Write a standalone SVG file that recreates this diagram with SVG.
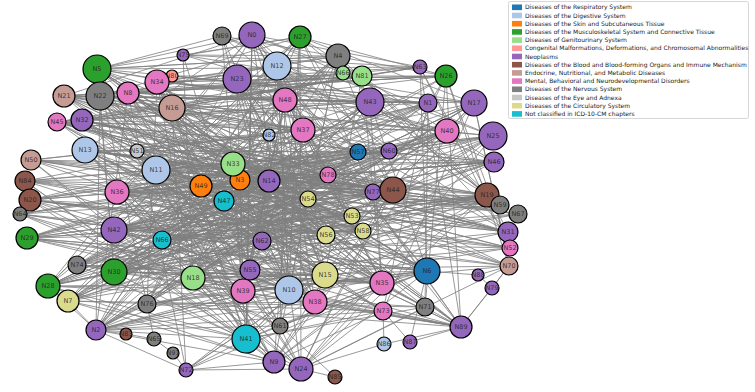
<svg xmlns="http://www.w3.org/2000/svg" width="755" height="392" viewBox="0 0 755 392">
<style>
.e{fill:none;stroke:#808080;stroke-width:1;stroke-opacity:0.8;stroke-linejoin:bevel}
.n circle{stroke:#000;stroke-width:1.2}
.n text{font-family:"DejaVu Sans",sans-serif;font-size:6.5px;fill:#222;fill-opacity:0.85;text-anchor:middle;dominant-baseline:central}
.c0{fill:#1f77b4}.c1{fill:#aec7e8}.c2{fill:#ff7f0e}.c3{fill:#2ca02c}.c4{fill:#98df8a}.c5{fill:#ff9896}.c6{fill:#9467bd}.c7{fill:#8c564b}.c8{fill:#c49c94}.c9{fill:#e377c2}.c10{fill:#7f7f7f}.c11{fill:#c7c7c7}.c12{fill:#dbdb8d}.c13{fill:#17becf}
.lg text{font-family:"DejaVu Sans",sans-serif;font-size:6px;fill:#222}
</style>
<rect width="755" height="392" fill="#fff"/>
<g id="edges">
<path class="e" d="M97 69L474 103L100 96L493 136L64 96L494 162L57 122L487 195L82 120L500 205L85 150L518 214L31 160L508 232L25 181L510 248L30 200L509 266L20 214L427 271L27 238L461 327L77 265L382 283L48 286L425 307L68 301L383 311L96 330L325 275L114 272L393 190L114 230L447 131L117 192L428 103L156 170L370 102L128 93L446 76L157 82L420 67L172 108L362 76"/>
<path class="e" d="M222 36L246 339L252 35L301 369L300 37L274 362L338 56L289 290L277 66L315 302L237 79L243 291L285 100L250 270L183 55L193 278L157 82L147 304L97 69L114 272L100 96L96 330L128 93L186 370L172 108L280 326L303 130L325 275L362 76L382 283L370 102L427 271L420 67L461 327L446 76L425 307L428 103L383 311L474 103L509 266"/>
<path class="e" d="M64 96L427 271L97 69L461 327L85 150L382 283L252 35L48 286L300 37L96 330L338 56L68 301L370 102L114 272L474 103L246 339L493 136L301 369L446 76L274 362L487 195L193 278L447 131L27 238L428 103L30 200L494 162L114 230L277 66L289 290L237 79L325 275L100 96L393 190L82 120L508 232L57 122L509 266L156 170L315 302L172 108L243 291L285 100L280 326"/>
<path class="e" d="M233 164L393 190L201 186L358 152L224 201L389 151L269 181L326 235L240 180L352 216L262 241L363 231L162 240L373 192L117 192L308 199L156 170L328 175L137 151L303 130L269 135L325 275L114 230L289 290L250 270L382 283L193 278L427 271L243 291L487 195L262 241L447 131L269 181L493 136L233 164L494 162L201 186L500 205L224 201L508 232L240 180L510 248L162 240L518 214"/>
<path class="e" d="M85 150L269 181L57 122L233 164L31 160L308 199L25 181L326 235L30 200L352 216L27 238L328 175L82 120L393 190L64 96L358 152L97 69L285 100L128 93L303 130L100 96L277 66L157 82L370 102L172 108L389 151L156 170L373 192L117 192L363 231L114 230L382 283L114 272L325 275L77 265L289 290L48 286L262 241L68 301L250 270L96 330L243 291L147 304L315 302"/>
<path class="e" d="M252 35L493 136L222 36L494 162L300 37L487 195L277 66L508 232L237 79L447 131L183 55L474 103L172 76L428 103L157 82L446 76L128 93L420 67L97 69L338 56L100 96L362 76L64 96L343 73L57 122L370 102L82 120L285 100L85 150L303 130L31 160L269 135L25 181L233 164L30 200L269 181L20 214L240 180L27 238L201 186L77 265L224 201L48 286L262 241"/>
<path class="e" d="M246 339L427 271L301 369L382 283L246 339L487 195L301 369L393 190L274 362L474 103L246 339L252 35L461 327L289 290L96 330L325 275L186 370L427 271L280 326L382 283L274 362L383 311L246 339L425 307L301 369L509 266L461 327L315 302L96 330L427 271L147 304L461 327L114 272L301 369L193 278L461 327L250 270L246 339L97 69L301 369L85 150L274 362L100 96L246 339L117 192"/>
<path class="e" d="M277 66L326 235L237 79L363 231L285 100L262 241L303 130L162 240L269 135L250 270L269 181L243 291L233 164L289 290L240 180L315 302L201 186L325 275L224 201L382 283L308 199L193 278L328 175L114 230L358 152L117 192L389 151L156 170L393 190L85 150L373 192L172 108L352 216L128 93L326 235L100 96L363 231L97 69"/>
<path class="e" d="M474 103L156 170L493 136L117 192L494 162L114 230L487 195L162 240L500 205L193 278L518 214L114 272L508 232L147 304L510 248L250 270L509 266L243 291L427 271L85 150L393 190L97 69L447 131L100 96L428 103L64 96L446 76L57 122L420 67L82 120L362 76L277 66L370 102L237 79L389 151L252 35L358 152L222 36"/>
<path class="e" d="M31 160L393 190L25 181L325 275L30 200L289 290L20 214L427 271L27 238L382 283L77 265L326 235L48 286L487 195L68 301L447 131L96 330L474 103L147 304L370 102L114 272L338 56L114 230L300 37L117 192L252 35L85 150L269 181L57 122L303 130L64 96L428 103"/>
<path class="e" d="M172 108L325 275L157 82L289 290L128 93L315 302L100 96L382 283L97 69L427 271L64 96L383 311L57 122L425 307L82 120L461 327L85 150L301 369L31 160L274 362L25 181L246 339L30 200L280 326L20 214L243 291L27 238L250 270L114 230L262 241L117 192L326 235L156 170L363 231L137 151L352 216L237 79L308 199L277 66L328 175L252 35L373 192L300 37L393 190L338 56L487 195L370 102L500 205L362 76L508 232L420 67L510 248L446 76L509 266L474 103L193 278L493 136L114 272L447 131L77 265L428 103L48 286L494 162L68 301L389 151L96 330L358 152L147 304"/>
<path class="e" d="M237 79L393 190L285 100L427 271L303 130L461 327L277 66L382 283L252 35L325 275L222 36L289 290L300 37L193 278L338 56L243 291L370 102L114 272L474 103L114 230L493 136L117 192L494 162L156 170L487 195L85 150L500 205L57 122L508 232L64 96L509 266L97 69L461 327L172 108L246 339L157 82L301 369L128 93L274 362L100 96L250 270L82 120L262 241L31 160L326 235L30 200L363 231L27 238L352 216L77 265L308 199L48 286L269 181L68 301L240 180L96 330L233 164L147 304L201 186L114 272L224 201"/>
<path class="e" d="M97 69L325 275L100 96L427 271L128 93L382 283L157 82L461 327L172 108L425 307L64 96L289 290L57 122L383 311L82 120L315 302L85 150L280 326L156 170L274 362L117 192L246 339L252 35L96 330L300 37L48 286L338 56L68 301L277 66L147 304L370 102L77 265L446 76L114 272L474 103L193 278L428 103L114 230L447 131L250 270L493 136L243 291L494 162L262 241L487 195L162 240L393 190L201 186L500 205L269 181L518 214L233 164L508 232L240 180L510 248L224 201"/>
<path class="e" d="M31 160L328 175L25 181L358 152L30 200L389 151L20 214L393 190L27 238L373 192L117 192L308 199L156 170L352 216L201 186L363 231L224 201L326 235L162 240L487 195L114 230L500 205L85 150L494 162L57 122L447 131L82 120L428 103L64 96L370 102L128 93L362 76L172 108L303 130L137 151L285 100L233 164L269 181L240 180L262 241L250 270L243 291L193 278L289 290L325 275L315 302L382 283L427 271"/>
<path class="e" d="M172 108L269 181L128 93L308 199L157 82L326 235L237 79L328 175L156 170L393 190L137 151L358 152L85 150L262 241L277 66L162 240L285 100L224 201L303 130L201 186L269 135L193 278L233 164L250 270L240 180L243 291L117 192L352 216L114 230L363 231L114 272L373 192L77 265L389 151L48 286L447 131L68 301L428 103L96 330L370 102L147 304L358 152L193 278L325 275L262 241L289 290L162 240L315 302L269 181L382 283L326 235L427 271L308 199L487 195L328 175L494 162"/>
<path class="e" d="M97 69L252 35M97 69L222 36M97 69L300 37M97 69L338 56M183 55L338 56M183 55L300 37M64 96L252 35M100 96L300 37M157 82L338 56M172 76L446 76M183 55L420 67M222 36L446 76M252 35L420 67M252 35L362 76M300 37L446 76M300 37L474 103M48 286L246 339M68 301L246 339M77 265L246 339M48 286L274 362M68 301L301 369"/>
<path class="e" d="M96 330L246 339M96 330L274 362M96 330L280 326M96 330L186 370M96 330L126 334M96 330L147 304M96 330L48 286M96 330L68 301M96 330L193 278"/>
<path class="e" d="M126 334L154 339L173 353L186 370M154 339L147 304M186 370L274 362M186 370L246 339M186 370L301 369M186 370L289 290M186 370L325 275M335 377L301 369M335 377L280 326M384 344L383 311M384 344L301 369M384 344L461 327M410 342L383 311M410 342L461 327M478 275L492 288M478 275L427 271M478 275L509 266M492 288L461 327M492 288L509 266M410 342L427 271"/>
</g>
<g id="nodes" class="n">
<g id="N0"><circle class="c6" cx="252" cy="35" r="13"/><text x="252" y="35">N0</text></g>
<g id="N69"><circle class="c10" cx="222" cy="36" r="9"/><text x="222" y="36">N69</text></g>
<g id="N27"><circle class="c3" cx="300" cy="37" r="11"/><text x="300" y="37">N27</text></g>
<g id="N4"><circle class="c10" cx="338" cy="56" r="12"/><text x="338" y="56">N4</text></g>
<g id="N66"><circle class="c4" cx="343" cy="73" r="7"/><text x="343" y="73">N66</text></g>
<g id="N81"><circle class="c4" cx="362" cy="76" r="10"/><text x="362" y="76">N81</text></g>
<g id="N63"><circle class="c6" cx="420" cy="67" r="7"/><text x="420" y="67">N63</text></g>
<g id="N26"><circle class="c3" cx="446" cy="76" r="11"/><text x="446" y="76">N26</text></g>
<g id="N75"><circle class="c6" cx="183" cy="55" r="6"/><text x="183" y="55">N75</text></g>
<g id="N80"><circle class="c5" cx="172" cy="76" r="6"/><text x="172" y="76">N80</text></g>
<g id="N5"><circle class="c3" cx="97" cy="69" r="14"/><text x="97" y="69">N5</text></g>
<g id="N34"><circle class="c9" cx="157" cy="82" r="12"/><text x="157" y="82">N34</text></g>
<g id="N8"><circle class="c9" cx="128" cy="93" r="11"/><text x="128" y="93">N8</text></g>
<g id="N21"><circle class="c8" cx="64" cy="96" r="11"/><text x="64" y="96">N21</text></g>
<g id="N22"><circle class="c10" cx="100" cy="96" r="14"/><text x="100" y="96">N22</text></g>
<g id="N16"><circle class="c8" cx="172" cy="108" r="13"/><text x="172" y="108">N16</text></g>
<g id="N23"><circle class="c6" cx="237" cy="79" r="14"/><text x="237" y="79">N23</text></g>
<g id="N12"><circle class="c1" cx="277" cy="66" r="14"/><text x="277" y="66">N12</text></g>
<g id="N48"><circle class="c9" cx="285" cy="100" r="12"/><text x="285" y="100">N48</text></g>
<g id="N37"><circle class="c9" cx="303" cy="130" r="12"/><text x="303" y="130">N37</text></g>
<g id="N82"><circle class="c1" cx="269" cy="135" r="6"/><text x="269" y="135">N82</text></g>
<g id="N43"><circle class="c6" cx="370" cy="102" r="14"/><text x="370" y="102">N43</text></g>
<g id="N1"><circle class="c6" cx="428" cy="103" r="9"/><text x="428" y="103">N1</text></g>
<g id="N17"><circle class="c6" cx="474" cy="103" r="13"/><text x="474" y="103">N17</text></g>
<g id="N40"><circle class="c9" cx="447" cy="131" r="12"/><text x="447" y="131">N40</text></g>
<g id="N25"><circle class="c6" cx="493" cy="136" r="14"/><text x="493" y="136">N25</text></g>
<g id="N46"><circle class="c6" cx="494" cy="162" r="10"/><text x="494" y="162">N46</text></g>
<g id="N57"><circle class="c0" cx="358" cy="152" r="8"/><text x="358" y="152">N57</text></g>
<g id="N60"><circle class="c6" cx="389" cy="151" r="8"/><text x="389" y="151">N60</text></g>
<g id="N77"><circle class="c6" cx="373" cy="192" r="8"/><text x="373" y="192">N77</text></g>
<g id="N44"><circle class="c7" cx="393" cy="190" r="13"/><text x="393" y="190">N44</text></g>
<g id="N19"><circle class="c7" cx="487" cy="195" r="12"/><text x="487" y="195">N19</text></g>
<g id="N59"><circle class="c10" cx="500" cy="205" r="9"/><text x="500" y="205">N59</text></g>
<g id="N67"><circle class="c10" cx="518" cy="214" r="9"/><text x="518" y="214">N67</text></g>
<g id="N31"><circle class="c6" cx="508" cy="232" r="10"/><text x="508" y="232">N31</text></g>
<g id="N52"><circle class="c9" cx="510" cy="248" r="8"/><text x="510" y="248">N52</text></g>
<g id="N70"><circle class="c8" cx="509" cy="266" r="9"/><text x="509" y="266">N70</text></g>
<g id="N88"><circle class="c6" cx="478" cy="275" r="6"/><text x="478" y="275">N88</text></g>
<g id="N79"><circle class="c6" cx="492" cy="288" r="7"/><text x="492" y="288">N79</text></g>
<g id="N45"><circle class="c9" cx="57" cy="122" r="9"/><text x="57" y="122">N45</text></g>
<g id="N32"><circle class="c6" cx="82" cy="120" r="11"/><text x="82" y="120">N32</text></g>
<g id="N13"><circle class="c1" cx="85" cy="150" r="13"/><text x="85" y="150">N13</text></g>
<g id="N51"><circle class="c11" cx="137" cy="151" r="7"/><text x="137" y="151">N51</text></g>
<g id="N11"><circle class="c1" cx="156" cy="170" r="14"/><text x="156" y="170">N11</text></g>
<g id="N50"><circle class="c8" cx="31" cy="160" r="10"/><text x="31" y="160">N50</text></g>
<g id="N84"><circle class="c7" cx="25" cy="181" r="10"/><text x="25" y="181">N84</text></g>
<g id="N20"><circle class="c7" cx="30" cy="200" r="11"/><text x="30" y="200">N20</text></g>
<g id="N64"><circle class="c10" cx="20" cy="214" r="7"/><text x="20" y="214">N64</text></g>
<g id="N36"><circle class="c9" cx="117" cy="192" r="12"/><text x="117" y="192">N36</text></g>
<g id="N42"><circle class="c6" cx="114" cy="230" r="13"/><text x="114" y="230">N42</text></g>
<g id="N68"><circle class="c13" cx="162" cy="240" r="9"/><text x="162" y="240">N66</text></g>
<g id="N29"><circle class="c3" cx="27" cy="238" r="11"/><text x="27" y="238">N29</text></g>
<g id="N3"><circle class="c2" cx="240" cy="180" r="10"/><text x="240" y="180">N3</text></g>
<g id="N33"><circle class="c4" cx="233" cy="164" r="12"/><text x="233" y="164">N33</text></g>
<g id="N49"><circle class="c2" cx="201" cy="186" r="11"/><text x="201" y="186">N49</text></g>
<g id="N47"><circle class="c13" cx="224" cy="201" r="10"/><text x="224" y="201">N47</text></g>
<g id="N14"><circle class="c6" cx="269" cy="181" r="11"/><text x="269" y="181">N14</text></g>
<g id="N78"><circle class="c9" cx="328" cy="175" r="8"/><text x="328" y="175">N78</text></g>
<g id="N54"><circle class="c12" cx="308" cy="199" r="8"/><text x="308" y="199">N54</text></g>
<g id="N53"><circle class="c12" cx="352" cy="216" r="8"/><text x="352" y="216">N53</text></g>
<g id="N58"><circle class="c12" cx="363" cy="231" r="8"/><text x="363" y="231">N58</text></g>
<g id="N56"><circle class="c12" cx="326" cy="235" r="9"/><text x="326" y="235">N56</text></g>
<g id="N62"><circle class="c6" cx="262" cy="241" r="9"/><text x="262" y="241">N62</text></g>
<g id="N74"><circle class="c10" cx="77" cy="265" r="9"/><text x="77" y="265">N74</text></g>
<g id="N30"><circle class="c3" cx="114" cy="272" r="13"/><text x="114" y="272">N30</text></g>
<g id="N28"><circle class="c3" cx="48" cy="286" r="12"/><text x="48" y="286">N28</text></g>
<g id="N7"><circle class="c12" cx="68" cy="301" r="11"/><text x="68" y="301">N7</text></g>
<g id="N18"><circle class="c4" cx="193" cy="278" r="12"/><text x="193" y="278">N18</text></g>
<g id="N55"><circle class="c6" cx="250" cy="270" r="10"/><text x="250" y="270">N55</text></g>
<g id="N39"><circle class="c9" cx="243" cy="291" r="12"/><text x="243" y="291">N39</text></g>
<g id="N10"><circle class="c1" cx="289" cy="290" r="14"/><text x="289" y="290">N10</text></g>
<g id="N15"><circle class="c12" cx="325" cy="275" r="13"/><text x="325" y="275">N15</text></g>
<g id="N38"><circle class="c9" cx="315" cy="302" r="12"/><text x="315" y="302">N38</text></g>
<g id="N35"><circle class="c9" cx="382" cy="283" r="12"/><text x="382" y="283">N35</text></g>
<g id="N6"><circle class="c0" cx="427" cy="271" r="13"/><text x="427" y="271">N6</text></g>
<g id="N71"><circle class="c10" cx="425" cy="307" r="9"/><text x="425" y="307">N71</text></g>
<g id="N73"><circle class="c9" cx="383" cy="311" r="9"/><text x="383" y="311">N73</text></g>
<g id="N89"><circle class="c6" cx="461" cy="327" r="11"/><text x="461" y="327">N89</text></g>
<g id="N86"><circle class="c1" cx="384" cy="344" r="7"/><text x="384" y="344">N86</text></g>
<g id="N87"><circle class="c6" cx="410" cy="342" r="7"/><text x="410" y="342">N87</text></g>
<g id="N76"><circle class="c10" cx="147" cy="304" r="9"/><text x="147" y="304">N76</text></g>
<g id="N2"><circle class="c6" cx="96" cy="330" r="10"/><text x="96" y="330">N2</text></g>
<g id="N83"><circle class="c7" cx="126" cy="334" r="6"/><text x="126" y="334">N83</text></g>
<g id="N65"><circle class="c10" cx="154" cy="339" r="7"/><text x="154" y="339">N65</text></g>
<g id="N91"><circle class="c10" cx="173" cy="353" r="6"/><text x="173" y="353">N91</text></g>
<g id="N72"><circle class="c6" cx="186" cy="370" r="7"/><text x="186" y="370">N72</text></g>
<g id="N41"><circle class="c13" cx="246" cy="339" r="14"/><text x="246" y="339">N41</text></g>
<g id="N61"><circle class="c10" cx="280" cy="326" r="8"/><text x="280" y="326">N61</text></g>
<g id="N9"><circle class="c6" cx="274" cy="362" r="11"/><text x="274" y="362">N9</text></g>
<g id="N24"><circle class="c6" cx="301" cy="369" r="12"/><text x="301" y="369">N24</text></g>
<g id="N85"><circle class="c7" cx="335" cy="377" r="7"/><text x="335" y="377">N85</text></g>
</g>
<g id="legend" class="lg">
<rect x="508.5" y="1.5" width="240" height="117" rx="2" fill="#fff" fill-opacity="0.85" stroke="#ccc" stroke-width="0.8"/>
<rect class="c0" x="512" y="4.5" width="10" height="5.6"/><text x="525" y="9.3">Diseases of the Respiratory System</text>
<rect class="c1" x="512" y="12.7" width="10" height="5.6"/><text x="525" y="17.5">Diseases of the Digestive System</text>
<rect class="c2" x="512" y="20.9" width="10" height="5.6"/><text x="525" y="25.7">Diseases of the Skin and Subcutaneous Tissue</text>
<rect class="c3" x="512" y="29.1" width="10" height="5.6"/><text x="525" y="33.9">Diseases of the Musculoskeletal System and Connective Tissue</text>
<rect class="c4" x="512" y="37.3" width="10" height="5.6"/><text x="525" y="42.1">Diseases of Genitourinary System</text>
<rect class="c5" x="512" y="45.5" width="10" height="5.6"/><text x="525" y="50.3">Congenital Malformations, Deformations, and Chromosomal Abnormalities</text>
<rect class="c6" x="512" y="53.7" width="10" height="5.6"/><text x="525" y="58.5">Neoplasms</text>
<rect class="c7" x="512" y="61.9" width="10" height="5.6"/><text x="525" y="66.7">Diseases of the Blood and Blood-forming Organs and Immune Mechanism</text>
<rect class="c8" x="512" y="70.1" width="10" height="5.6"/><text x="525" y="74.9">Endocrine, Nutritional, and Metabolic Diseases</text>
<rect class="c9" x="512" y="78.3" width="10" height="5.6"/><text x="525" y="83.1">Mental, Behavioral and Neurodevelopmental Disorders</text>
<rect class="c10" x="512" y="86.5" width="10" height="5.6"/><text x="525" y="91.3">Diseases of the Nervous System</text>
<rect class="c11" x="512" y="94.7" width="10" height="5.6"/><text x="525" y="99.5">Diseases of the Eye and Adnexa</text>
<rect class="c12" x="512" y="102.9" width="10" height="5.6"/><text x="525" y="107.7">Diseases of the Circulatory System</text>
<rect class="c13" x="512" y="111.1" width="10" height="5.6"/><text x="525" y="115.9">Not classified in ICD-10-CM chapters</text>
</g>
</svg>
